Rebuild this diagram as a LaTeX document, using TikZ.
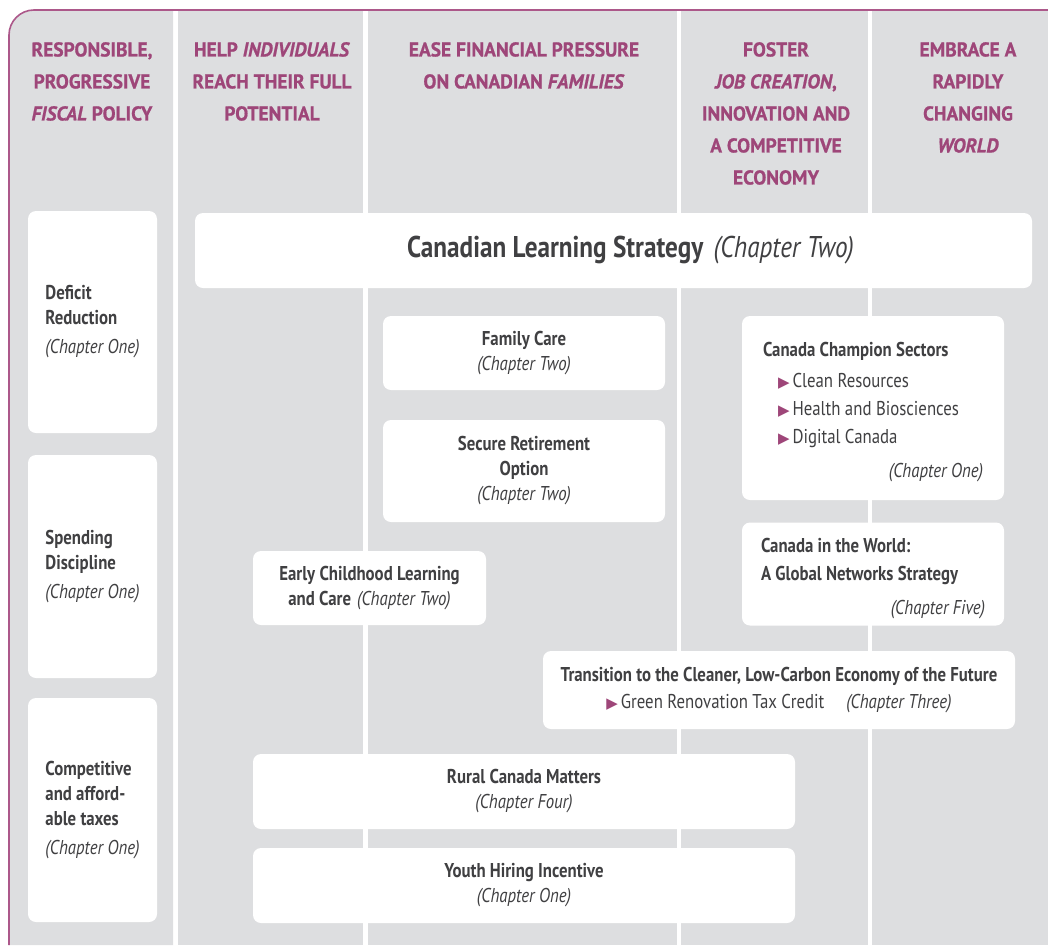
\documentclass[tikz,border=0pt]{standalone}
\usepackage{fontspec}
\setmainfont{PT Sans}[FakeStretch=0.84]
\newfontfamily\headfont{PT Sans}[FakeStretch=0.97, FakeBold=0.8]
\newfontfamily\symfont{DejaVu Sans}
\usepackage{tikz}
\usetikzlibrary{positioning}
\definecolor{budget}{RGB}{158,70,121}
\definecolor{frame}{RGB}{172,88,138}
\definecolor{panel}{RGB}{221,222,224}
\definecolor{ink}{RGB}{64,64,66}
\newcommand{\bul}{{\color{budget}\symfont\fontsize{15}{15}\selectfont ▶}\hspace{3pt}}
\newcommand{\chap}[1]{\textit{\mdseries (#1)}}

\begin{document}
\begin{tikzpicture}[
    x=1pt, y=-1pt,
    header/.style={anchor=north, align=center, text=budget, inner sep=0pt, font=\headfont\bfseries\fontsize{20}{32}\selectfont},
    box/.style={fill=white, rounded corners=8pt, inner sep=0pt, text=ink, align=center, font=\fontsize{20}{25}\selectfont},
    sidebox/.style={box, minimum width=129pt, align=left}
]
\useasboundingbox (0,0) rectangle (1048,945);

% Column panels
\fill[panel] (9,945) -- (9,35) arc[start angle=180, end angle=270, radius=25] -- (173,10) -- (173,945) -- cycle;
\foreach \xa/\xb in {178/363, 368/677, 681/868, 872/1048}
  \fill[panel] (\xa,10) rectangle (\xb,945);
\draw[frame, line width=1.6pt] (9,945) -- (9,35) arc[start angle=180, end angle=270, radius=25] -- (1048,10);

% Column headers
\node[header] (hdfiscal) at (92,42) {RESPONSIBLE,\\PROGRESSIVE\\\textit{FISCAL} POLICY};
\node[header] (hdpeople) at (272,42) {HELP \textit{INDIVIDUALS}\\REACH THEIR FULL\\POTENTIAL};
\node[header] (hdfamily) at (524,42) {EASE FINANCIAL PRESSURE\\ON CANADIAN \textit{FAMILIES}};
\node[header] (hdjobs) at (776,42) {FOSTER\\\textit{JOB CREATION},\\INNOVATION AND\\A COMPETITIVE\\ECONOMY};
\node[header] (hdworld) at (968,42) {EMBRACE A\\RAPIDLY\\CHANGING\\\textit{WORLD}};

% Fiscal column
\node[sidebox, minimum height=222pt] (deficit) at (92.5,322) {\textbf{Deficit}\\\textbf{Reduction}\\[4pt]\chap{Chapter One}};
\node[sidebox, minimum height=223pt] (spending) at (92.5,566.5) {\textbf{Spending}\\\textbf{Discipline}\\[4pt]\chap{Chapter One}};
\node[sidebox, minimum height=224pt] (taxes) at (92.5,810) {\textbf{Competitive}\\\textbf{and afford-}\\\textbf{able taxes}\\[4pt]\chap{Chapter One}};

% Wide initiatives
\node[box, minimum width=837pt, minimum height=75pt, font=\fontsize{30}{36}\selectfont] (learning) at (613.5,250.5) {\hspace{34pt}\textbf{Canadian Learning Strategy}\hspace{10pt}\textit{(Chapter Two)}};
\node[box, minimum width=282pt, minimum height=74pt] (familycare) at (524,353) {\textbf{Family Care}\\\chap{Chapter Two}};
\node[box, minimum width=282pt, minimum height=102pt] (retirement) at (524,471) {\textbf{Secure Retirement}\\\textbf{Option}\\\chap{Chapter Two}};
\node[box, minimum width=233pt, minimum height=74pt] (earlycare) at (369.5,588) {\textbf{Early Childhood Learning}\\\textbf{and Care}\hspace{6pt}\chap{Chapter Two}};

% Jobs and world
\node[box, minimum width=262pt, minimum height=184pt, text width=220pt, align=flush left, font=\fontsize{20}{28}\selectfont] (champions) at (873,408) {\rule{0pt}{23pt}\textbf{Canada Champion Sectors}\\[3pt]
  \hspace*{15pt}\bul Clean Resources\\
  \hspace*{15pt}\bul Health and Biosciences\\
  \hspace*{15pt}\bul Digital Canada\\[6pt]
  \hspace*{0pt plus 1fill}\chap{Chapter One}};
\node[box, minimum width=262pt, minimum height=103pt, text width=224pt, align=flush left, font=\fontsize{20}{28}\selectfont] (networks) at (873,574) {\rule{0pt}{23pt}\textbf{Canada in the World:}\\\textbf{A Global Networks Strategy}\\[6pt]\hspace*{0pt plus 1fill}\chap{Chapter Five}};
\node[box, minimum width=472pt, minimum height=78pt] (lowcarbon) at (779,690) {\textbf{Transition to the Cleaner, Low-Carbon Economy of the Future}\\[2pt]\bul Green Renovation Tax Credit\hspace{22pt}\chap{Chapter Three}};

% Bottom rows
\node[box, minimum width=542pt, minimum height=75pt] (rural) at (524,791.5) {\textbf{Rural Canada Matters}\\\chap{Chapter Four}};
\node[box, minimum width=542pt, minimum height=75pt] (youth) at (524,885.5) {\textbf{Youth Hiring Incentive}\\\chap{Chapter One}};

\end{tikzpicture}
\end{document}
